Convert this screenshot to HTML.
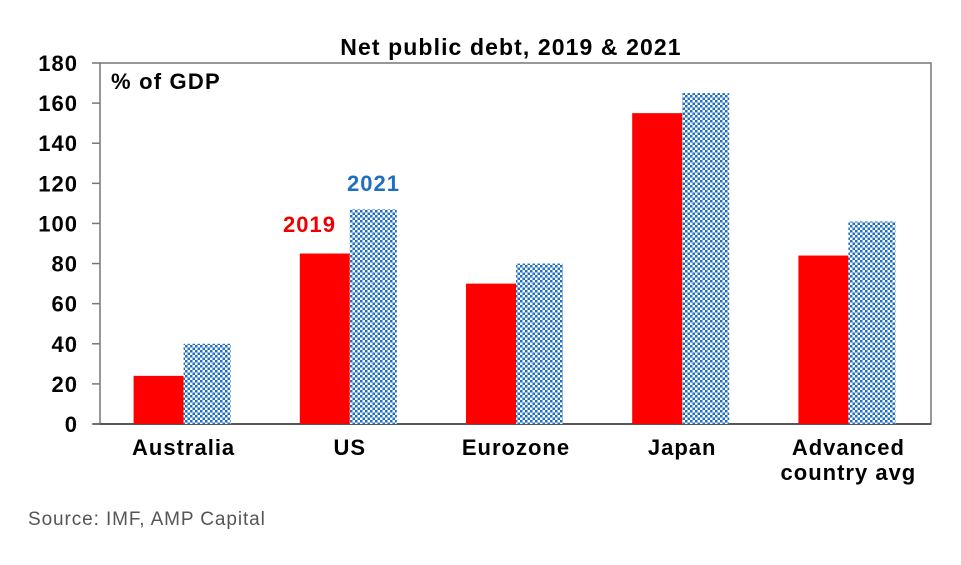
<!DOCTYPE html>
<html><head><meta charset="utf-8"><style>
body{margin:0;background:#fff;width:961px;height:560px;overflow:hidden;font-family:"Liberation Sans",Arial,sans-serif}
</style></head><body>
<svg id="chart" width="961" height="560" xmlns="http://www.w3.org/2000/svg" font-family="Liberation Sans, Arial, sans-serif">
<defs>
<pattern id="chk" width="5" height="5" patternUnits="userSpaceOnUse">
<rect width="5" height="5" fill="#fff"/>
<rect width="2.5" height="2.5" fill="#1f6fc0"/>
<rect x="2.5" y="2.5" width="2.5" height="2.5" fill="#1f6fc0"/>
</pattern>
</defs>
<text x="511" y="55" text-anchor="middle" font-size="23" letter-spacing="1.1" font-weight="bold">Net public debt, 2019 &amp; 2021</text>
<rect x="100" y="63" width="831" height="361" fill="none" stroke="#777" stroke-width="1.5"/>
<line x1="93" x2="931" y1="424" y2="424" stroke="#555" stroke-width="2"/>
<text x="111" y="89" font-size="22" letter-spacing="1.2" font-weight="bold">% of GDP</text>
<g id="axes"></g><g id="bars"></g>
<text x="336" y="232" text-anchor="end" font-size="22" letter-spacing="1" font-weight="bold" fill="#e00">2019</text>
<text x="347" y="191" font-size="22" letter-spacing="1" font-weight="bold" fill="#1f6fc0">2021</text>
<text x="28" y="525" font-size="19" letter-spacing="0.9" fill="#555">Source: IMF, AMP Capital</text>
</svg>
<script>
const categories=[["Australia"],["US"],["Eurozone"],["Japan"],["Advanced","country avg"]];
const values2019=[24,85,70,155,84];
const values2021=[40,107,80,165,101];
const yTicks=[0,20,40,60,80,100,120,140,160,180];
const NS="http://www.w3.org/2000/svg";
const x0=100,x1=931,y0=424,y1=63,ymax=180;
const y=v=>y0-(v/ymax)*(y0-y1);
const bw=(x1-x0)/categories.length;
const cx=i=>x0+bw*(i+0.5)+0.5;
function mk(t,a,p){const e=document.createElementNS(NS,t);for(const k in a)e.setAttribute(k,a[k]);p.appendChild(e);return e;}
const ax=document.getElementById('axes'),bars=document.getElementById('bars');
yTicks.forEach(v=>{
 const l=mk('line',{x1:x0-8,x2:x0,y1:y(v),y2:y(v),stroke:'#777','stroke-width':1.5},ax);
 
 
 const t=mk('text',{x:x0-22,y:y(v)+8,'text-anchor':'end','font-size':22,'letter-spacing':1,'font-weight':'bold'},ax);
 t.textContent=v;
 
 
});
categories.forEach((c,i)=>{
 const r=mk('rect',{x:cx(i)-50,y:y(values2019[i]),width:50,height:y0-y(values2019[i]),fill:'#ff0000'},bars);
 
 
 const b=mk('rect',{x:cx(i),y:y(values2021[i]),width:47,height:y0-y(values2021[i]),fill:'url(#chk)'},bars);
 
 
 c.forEach((s,j)=>{
  const t=mk('text',{x:cx(i),y:455+j*25,'text-anchor':'middle','font-size':22,'letter-spacing':1,'font-weight':'bold'},ax);
  t.textContent=s;
  
  
 });
});
</script>
</body></html>
